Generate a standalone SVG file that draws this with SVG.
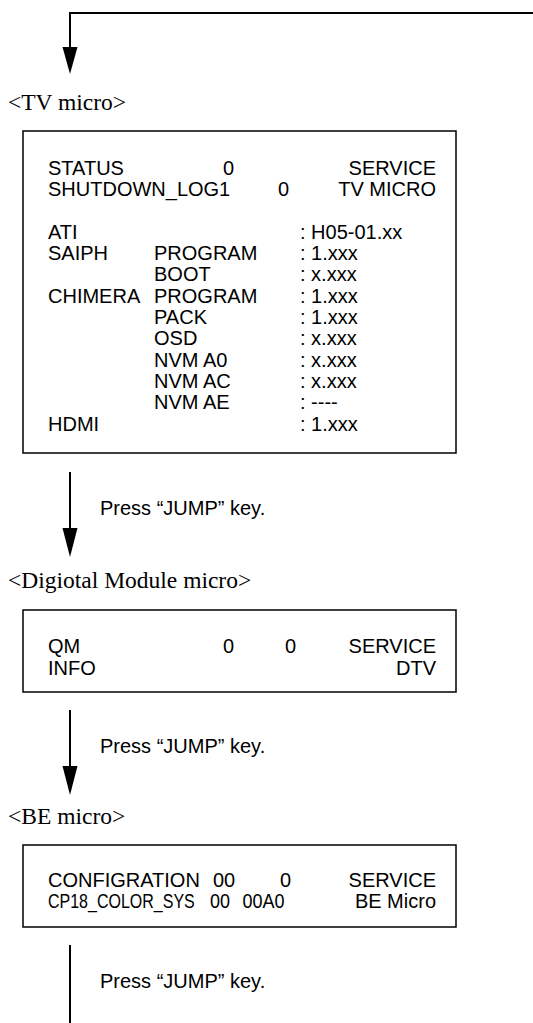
<svg xmlns="http://www.w3.org/2000/svg" width="533" height="1023" viewBox="0 0 533 1023">
<style>
.line{stroke:#000;stroke-width:2;fill:none}
.head{fill:#000}
.box{stroke:#000;stroke-width:1.5;fill:#fff}
.t{font-family:"Liberation Sans",Arial,sans-serif;font-size:20px;fill:#000}
.h{font-family:"Liberation Serif","Times New Roman",serif;font-size:23.5px;fill:#000}
.e{text-anchor:end}
</style>
<rect width="533" height="1023" fill="#fff"/>
<g id="connectors">
<path class="line" d="M533,13 H70 V47"/>
<path class="head" d="M62.5,47 L77.5,47 L70,74 Z"/>
<path class="line" d="M70,472 V529"/>
<path class="head" d="M62.5,528 L77.5,528 L70,557 Z"/>
<path class="line" d="M70,710 V767"/>
<path class="head" d="M62.5,766 L77.5,766 L70,795 Z"/>
<path class="line" d="M70,945 V1023"/>
<text class="t" x="100" y="515">Press “JUMP” key.</text>
<text class="t" x="100" y="753">Press “JUMP” key.</text>
<text class="t" x="100" y="988">Press “JUMP” key.</text>
</g>
<g id="tv-micro">
<text class="h" x="8" y="110">&lt;TV micro&gt;</text>
<rect class="box" x="23" y="131" width="433" height="322"/>
<text class="t" x="48" y="174.5">STATUS</text>
<text class="t" x="223" y="174.5">0</text>
<text class="t e" x="436" y="174.5">SERVICE</text>
<text class="t" x="48" y="196">SHUTDOWN_LOG1</text>
<text class="t" x="278" y="196">0</text>
<text class="t e" x="436" y="196">TV MICRO</text>
<text class="t" x="48" y="238.5">ATI</text>
<text class="t" x="300" y="238.5">: H05-01.xx</text>
<text class="t" x="48" y="260">SAIPH</text>
<text class="t" x="154" y="260">PROGRAM</text>
<text class="t" x="300" y="260">: 1.xxx</text>
<text class="t" x="154" y="281">BOOT</text>
<text class="t" x="300" y="281">: x.xxx</text>
<text class="t" x="48" y="302.5">CHIMERA</text>
<text class="t" x="154" y="302.5">PROGRAM</text>
<text class="t" x="300" y="302.5">: 1.xxx</text>
<text class="t" x="154" y="324">PACK</text>
<text class="t" x="300" y="324">: 1.xxx</text>
<text class="t" x="154" y="345">OSD</text>
<text class="t" x="300" y="345">: x.xxx</text>
<text class="t" x="154" y="366.5">NVM A0</text>
<text class="t" x="300" y="366.5">: x.xxx</text>
<text class="t" x="154" y="388">NVM AC</text>
<text class="t" x="300" y="388">: x.xxx</text>
<text class="t" x="154" y="409">NVM AE</text>
<text class="t" x="300" y="409">: ----</text>
<text class="t" x="48" y="430.5">HDMI</text>
<text class="t" x="300" y="430.5">: 1.xxx</text>
</g>
<g id="dm-micro">
<text class="h" x="8" y="588">&lt;Digiotal Module micro&gt;</text>
<rect class="box" x="23" y="610" width="433" height="82"/>
<text class="t" x="48" y="653">QM</text>
<text class="t" x="223" y="653">0</text>
<text class="t" x="285" y="653">0</text>
<text class="t e" x="436" y="653">SERVICE</text>
<text class="t" x="48" y="674.5">INFO</text>
<text class="t e" x="436" y="674.5">DTV</text>
</g>
<g id="be-micro">
<text class="h" x="8" y="824">&lt;BE micro&gt;</text>
<rect class="box" x="23" y="845" width="433" height="82"/>
<text class="t" x="48" y="887">CONFIGRATION</text>
<text class="t" x="213" y="887">00</text>
<text class="t" x="280" y="887">0</text>
<text class="t e" x="436" y="887">SERVICE</text>
<text class="t" transform="translate(48 908) scale(0.8 1)" x="0" y="0">CP18_COLOR_SYS</text>
<text class="t" transform="translate(210 908) scale(0.9 1)" x="0" y="0">00<tspan x="36">00A0</tspan></text>
<text class="t e" x="436" y="908">BE Micro</text>
</g>
</svg>
